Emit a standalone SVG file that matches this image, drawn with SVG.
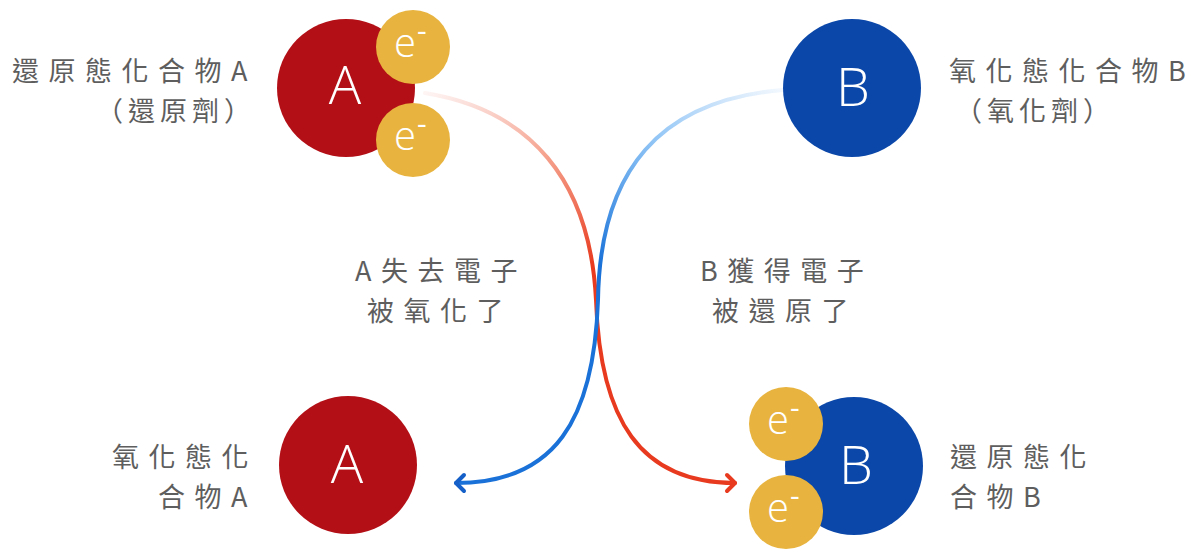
<svg xmlns="http://www.w3.org/2000/svg" width="1186" height="552" viewBox="0 0 1186 552">
<style>
.lbl{font-family:"Noto Sans CJK TC","Noto Sans",sans-serif;font-size:27px;fill:#5e5e5e;letter-spacing:9.5px}
.big{font-family:"Open Sans","Liberation Sans",sans-serif;font-size:54px;font-weight:300;fill:#fff;text-anchor:middle}
.el{font-family:"Open Sans","Liberation Sans",sans-serif;font-size:40px;font-weight:300;fill:#fff}
.el tspan{font-size:30px;font-weight:400}
.ls0{letter-spacing:0}
.red{fill:#b30f16}
.blue{fill:#0a47a9}
.yel{fill:#e8b43f}
</style>
<defs>
<linearGradient id="gr" gradientUnits="userSpaceOnUse" x1="425" y1="93" x2="596" y2="262">
<stop offset="0" stop-color="#f08070" stop-opacity="0.08"/>
<stop offset="0.5" stop-color="#f07050" stop-opacity="0.6"/>
<stop offset="1" stop-color="#e83a1e"/>
</linearGradient>
<linearGradient id="gb" gradientUnits="userSpaceOnUse" x1="783" y1="90" x2="598" y2="262">
<stop offset="0" stop-color="#60a8f0" stop-opacity="0.08"/>
<stop offset="0.5" stop-color="#4aa0f0" stop-opacity="0.6"/>
<stop offset="1" stop-color="#1a72d8"/>
</linearGradient>
<marker id="ar" markerUnits="userSpaceOnUse" markerWidth="24" markerHeight="24" refX="12" refY="12" orient="auto" viewBox="0 0 24 24">
<path d="M4 4 L12 12 L4 20" fill="none" stroke="#e83a1e" stroke-width="4" stroke-linecap="round" stroke-linejoin="round"/>
</marker>
<marker id="ab" markerUnits="userSpaceOnUse" markerWidth="24" markerHeight="24" refX="12" refY="12" orient="auto" viewBox="0 0 24 24">
<path d="M4 4 L12 12 L4 20" fill="none" stroke="#1560c8" stroke-width="4" stroke-linecap="round" stroke-linejoin="round"/>
</marker>
</defs>
<rect width="1186" height="552" fill="#fff"/>
<g id="connectors" fill="none" stroke-width="4" stroke-linecap="round">
<path d="M425 93 C530 110 590 180 596 300 C600 420 640 483 735 483" stroke="url(#gr)" marker-end="url(#ar)"/>
<path d="M783 90 C660 100 600 170 598 300 C594 420 555 483 456 483" stroke="url(#gb)" marker-end="url(#ab)"/>
</g>
<g id="nodeA_top">
<circle class="red" cx="346" cy="88" r="69"/>
<text class="big" x="345" y="104">A</text>
<circle class="yel" cx="413" cy="47" r="37"/>
<text class="el" x="394" y="57">e<tspan dx="1" dy="-16">-</tspan></text>
<circle class="yel" cx="413" cy="140" r="37"/>
<text class="el" x="394" y="150">e<tspan dx="1" dy="-16">-</tspan></text>
</g>
<g id="labelA_top">
<text class="lbl" x="12" y="81">還原態化合物<tspan class="ls0">A</tspan></text>
<text class="lbl" x="96" y="121" style="letter-spacing:5px">（還原劑<tspan class="ls0">）</tspan></text>
</g>
<g id="nodeB_top">
<circle class="blue" cx="852" cy="88" r="69"/>
<text class="big" x="853" y="106">B</text>
</g>
<g id="labelB_top">
<text class="lbl" x="949" y="81">氧化態化合物<tspan class="ls0">B</tspan></text>
<text class="lbl" x="955" y="121" style="letter-spacing:5px">（氧化劑<tspan class="ls0">）</tspan></text>
</g>
<g id="textA_mid">
<text class="lbl" x="355" y="281">A失去電<tspan class="ls0">子</tspan></text>
<text class="lbl" x="367" y="321">被氧化<tspan class="ls0">了</tspan></text>
</g>
<g id="textB_mid">
<text class="lbl" x="700" y="281">B獲得電<tspan class="ls0">子</tspan></text>
<text class="lbl" x="712" y="321">被還原<tspan class="ls0">了</tspan></text>
</g>
<g id="nodeA_bottom">
<circle class="red" cx="348" cy="465" r="69"/>
<text class="big" x="347" y="483">A</text>
</g>
<g id="labelA_bottom">
<text class="lbl" x="112" y="467">氧化態<tspan class="ls0">化</tspan></text>
<text class="lbl" x="158" y="507">合物<tspan class="ls0">A</tspan></text>
</g>
<g id="nodeB_bottom">
<circle class="blue" cx="854" cy="466" r="69"/>
<text class="big" x="856" y="484">B</text>
<circle class="yel" cx="786" cy="424" r="37"/>
<text class="el" x="767" y="434">e<tspan dx="1" dy="-16">-</tspan></text>
<circle class="yel" cx="786" cy="512" r="37"/>
<text class="el" x="767" y="522">e<tspan dx="1" dy="-16">-</tspan></text>
</g>
<g id="labelB_bottom">
<text class="lbl" x="950" y="467">還原態<tspan class="ls0">化</tspan></text>
<text class="lbl" x="950" y="507">合物<tspan class="ls0">B</tspan></text>
</g>
</svg>
